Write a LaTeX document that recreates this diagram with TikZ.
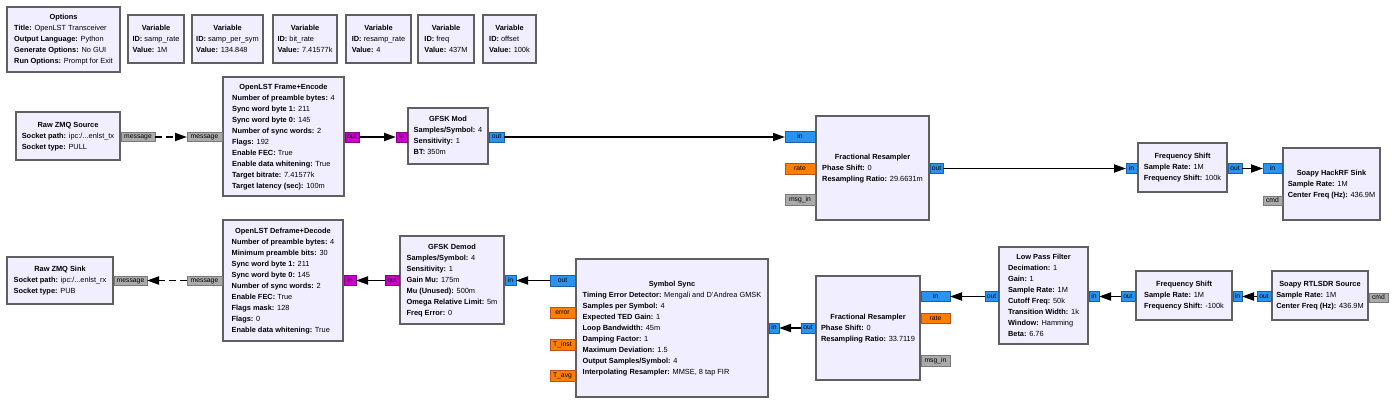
\documentclass[tikz,border=0pt]{standalone}
\usepackage{fontspec}
\setmainfont{Liberation Sans}
\usetikzlibrary{arrows.meta}

\definecolor{blkfill}{HTML}{F1EEFF}
\definecolor{blkline}{HTML}{606060}
\definecolor{cfill}{HTML}{2A93F0}
\definecolor{cline}{HTML}{1E5FA8}
\definecolor{bfill}{HTML}{CC00CC}
\definecolor{bline}{HTML}{8A008A}
\definecolor{ffill}{HTML}{FF8000}
\definecolor{fline}{HTML}{C0501E}
\definecolor{mfill}{HTML}{ABABAB}
\definecolor{mline}{HTML}{7A7A7A}

\newcommand{\kv}[2]{\textbf{#1:} #2}
\newcommand{\blk}[2]{\begin{tabular}{@{}l@{}}\multicolumn{1}{@{}c@{}}{\textbf{#1}}\\#2\end{tabular}}

\begin{document}
\begin{tikzpicture}[x=1pt,y=-1pt,
  block/.style={draw=blkline,line width=2pt,fill=blkfill,inner sep=0pt,font=\fontsize{7.4}{11}\selectfont},
  port/.style={line width=0.8pt,inner sep=0pt,outer sep=0pt,minimum height=10pt,text height=5pt,text depth=1.2pt,font=\fontsize{6.8}{8}\selectfont},
  cplx/.style={port,draw=cline,fill=cfill},
  byte/.style={port,draw=bline,fill=bfill},
  flt/.style={port,draw=fline,fill=ffill},
  msg/.style={port,draw=mline,fill=mfill,minimum height=9pt},
  wire/.style={line width=1.9pt,-{Triangle[length=12pt,width=8pt]}},
  mwire/.style={wire,dash pattern=on 7pt off 4pt}]

\useasboundingbox[fill=white] (0,0) rectangle (1395,404);

\node[block,minimum width=113pt,minimum height=65pt](opts) at (63.5,39.5){\blk{Options}{\kv{Title}{OpenLST Transceiver}\\\kv{Output Language}{Python}\\\kv{Generate Options}{No GUI}\\\kv{Run Options}{Prompt for Exit}}};
\node[block,minimum width=56pt,minimum height=48pt](var1) at (156,39){\blk{Variable}{\kv{ID}{samp\_rate}\\\kv{Value}{1M}}};
\node[block,minimum width=71pt,minimum height=48pt](var2) at (227.5,39){\blk{Variable}{\kv{ID}{samp\_per\_sym}\\\kv{Value}{134.848}}};
\node[block,minimum width=64pt,minimum height=48pt](var3) at (305,39){\blk{Variable}{\kv{ID}{bit\_rate}\\\kv{Value}{7.41577k}}};
\node[block,minimum width=65pt,minimum height=48pt](var4) at (378.5,39){\blk{Variable}{\kv{ID}{resamp\_rate}\\\kv{Value}{4}}};
\node[block,minimum width=56pt,minimum height=48pt](var5) at (446,39){\blk{Variable}{\kv{ID}{freq}\\\kv{Value}{437M}}};
\node[block,minimum width=53pt,minimum height=48pt](var6) at (509.5,39){\blk{Variable}{\kv{ID}{offset}\\\kv{Value}{100k}}};

\node[block,minimum width=104pt,minimum height=48pt](src) at (68,136){\blk{Raw ZMQ Source}{\kv{Socket path}{ipc:/...enlst\_tx}\\\kv{Socket type}{PULL}}};
\node[block,minimum width=121pt,minimum height=119pt](enc) at (283.5,136.5){\blk{OpenLST Frame+Encode}{\kv{Number of preamble bytes}{4}\\\kv{Sync word byte 1}{211}\\\kv{Sync word byte 0}{145}\\\kv{Number of sync words}{2}\\\kv{Flags}{192}\\\kv{Enable FEC}{True}\\\kv{Enable data whitening}{True}\\\kv{Target bitrate}{7.41577k}\\\kv{Target latency (sec)}{100m}}};
\node[block,minimum width=80pt,minimum height=56pt](mod) at (448,136){\blk{GFSK Mod}{\kv{Samples/Symbol}{4}\\\kv{Sensitivity}{1}\\\kv{BT}{350m}}};
\node[block,minimum width=113pt,minimum height=104pt](rsA) at (872.5,168){\blk{Fractional Resampler}{\kv{Phase Shift}{0}\\\kv{Resampling Ratio}{29.6631m}}};
\node[block,minimum width=89pt,minimum height=49pt](shA) at (1182.5,167.5){\blk{Frequency Shift}{\kv{Sample Rate}{1M}\\\kv{Frequency Shift}{100k}}};
\node[block,minimum width=97pt,minimum height=72pt](hrf) at (1331.5,184){\blk{Soapy HackRF Sink}{\kv{Sample Rate}{1M}\\\kv{Center Freq (Hz)}{436.9M}}};

\node[block,minimum width=106pt,minimum height=47pt](snk) at (60,280.5){\blk{Raw ZMQ Sink}{\kv{Socket path}{ipc:/...enlst\_rx}\\\kv{Socket type}{PUB}}};
\node[block,minimum width=120pt,minimum height=121pt](dec) at (283,280.5){\blk{OpenLST Deframe+Decode}{\kv{Number of preamble bytes}{4}\\\kv{Minimum preamble bits}{30}\\\kv{Sync word byte 1}{211}\\\kv{Sync word byte 0}{145}\\\kv{Number of sync words}{2}\\\kv{Enable FEC}{True}\\\kv{Flags mask}{128}\\\kv{Flags}{0}\\\kv{Enable data whitening}{True}}};
\node[block,minimum width=104pt,minimum height=88pt](dem) at (452,280){\blk{GFSK Demod}{\kv{Samples/Symbol}{4}\\\kv{Sensitivity}{1}\\\kv{Gain Mu}{175m}\\\kv{Mu (Unused)}{500m}\\\kv{Omega Relative Limit}{5m}\\\kv{Freq Error}{0}}};
\node[block,minimum width=192pt,minimum height=138pt](sync) at (672,328){\blk{Symbol Sync}{\kv{Timing Error Detector}{Mengali and D'Andrea GMSK}\\\kv{Samples per Symbol}{4}\\\kv{Expected TED Gain}{1}\\\kv{Loop Bandwidth}{45m}\\\kv{Damping Factor}{1}\\\kv{Maximum Deviation}{1.5}\\\kv{Output Samples/Symbol}{4}\\\kv{Interpolating Resampler}{MMSE, 8 tap FIR}}};
\node[block,minimum width=104pt,minimum height=104pt](rsB) at (868,328){\blk{Fractional Resampler}{\kv{Phase Shift}{0}\\\kv{Resampling Ratio}{33.7119}}};
\node[block,minimum width=89pt,minimum height=97pt](lpf) at (1043.5,295.5){\blk{Low Pass Filter}{\kv{Decimation}{1}\\\kv{Gain}{1}\\\kv{Sample Rate}{1M}\\\kv{Cutoff Freq}{50k}\\\kv{Transition Width}{1k}\\\kv{Window}{Hamming}\\\kv{Beta}{6.76}}};
\node[block,minimum width=96pt,minimum height=49pt](shB) at (1184,295.5){\blk{Frequency Shift}{\kv{Sample Rate}{1M}\\\kv{Frequency Shift}{-100k}}};
\node[block,minimum width=96pt,minimum height=49pt](rtl) at (1320,295.5){\blk{Soapy RTLSDR Source}{\kv{Sample Rate}{1M}\\\kv{Center Freq (Hz)}{436.9M}}};

\node[msg,minimum width=34pt,anchor=west](src-msg) at (src.east |- 0,137){message};
\node[msg,minimum width=35pt,anchor=east](enc-msg) at (enc.west |- 0,137){message};
\node[byte,minimum width=14pt,anchor=west](enc-out) at (enc.east |- 0,137){out};
\node[byte,minimum width=11pt,anchor=east](mod-in) at (mod.west |- 0,137){in};
\node[cplx,minimum width=15pt,anchor=west](mod-out) at (mod.east |- 0,137){out};
\node[cplx,minimum width=30pt,minimum height=11pt,anchor=east](rsA-in) at (rsA.west |- 0,137){in};
\node[flt,minimum width=30pt,minimum height=11pt,anchor=east](rsA-rate) at (rsA.west |- 0,168.5){rate};
\node[msg,minimum width=30pt,minimum height=11pt,anchor=east](rsA-msg) at (rsA.west |- 0,200){msg\_in};
\node[cplx,minimum width=13pt,anchor=west](rsA-out) at (rsA.east |- 0,168.5){out};
\node[cplx,minimum width=11pt,anchor=east](shA-in) at (shA.west |- 0,168.5){in};
\node[cplx,minimum width=14pt,anchor=west](shA-out) at (shA.east |- 0,168.5){out};
\node[cplx,minimum width=19pt,anchor=east](hrf-in) at (hrf.west |- 0,168.5){in};
\node[msg,minimum width=19pt,anchor=east](hrf-cmd) at (hrf.west |- 0,200.5){cmd};

\node[msg,minimum width=33pt,anchor=west](snk-msg) at (snk.east |- 0,280.5){message};
\node[msg,minimum width=35pt,anchor=east](dec-msg) at (dec.west |- 0,280.5){message};
\node[byte,minimum width=12pt,anchor=west](dec-in) at (dec.east |- 0,280.5){in};
\node[byte,minimum width=14pt,anchor=east](dem-out) at (dem.west |- 0,280.5){out};
\node[cplx,minimum width=11pt,anchor=west](dem-in) at (dem.east |- 0,280.5){in};
\node[cplx,minimum width=25pt,minimum height=11pt,anchor=east](sync-out) at (sync.west |- 0,280.5){out};
\node[flt,minimum width=25pt,minimum height=11pt,anchor=east](sync-err) at (sync.west |- 0,313){error};
\node[flt,minimum width=25pt,minimum height=11pt,anchor=east](sync-tinst) at (sync.west |- 0,344.5){T\_inst};
\node[flt,minimum width=25pt,minimum height=11pt,anchor=east](sync-tavg) at (sync.west |- 0,376){T\_avg};
\node[cplx,minimum width=10pt,anchor=west](sync-in) at (sync.east |- 0,328){in};
\node[cplx,minimum width=14pt,anchor=east](rsB-out) at (rsB.west |- 0,328){out};
\node[cplx,minimum width=29pt,anchor=west](rsB-in) at (rsB.east |- 0,296.5){in};
\node[flt,minimum width=29pt,anchor=west](rsB-rate) at (rsB.east |- 0,318.5){rate};
\node[msg,minimum width=29pt,minimum height=11pt,anchor=west](rsB-msg) at (rsB.east |- 0,360.5){msg\_in};
\node[cplx,minimum width=13pt,anchor=east](lpf-out) at (lpf.west |- 0,296.5){out};
\node[cplx,minimum width=10pt,anchor=west](lpf-in) at (lpf.east |- 0,296.5){in};
\node[cplx,minimum width=14pt,anchor=east](shB-out) at (shB.west |- 0,296.5){out};
\node[cplx,minimum width=9pt,anchor=west](shB-in) at (shB.east |- 0,296.5){in};
\node[cplx,minimum width=14pt,anchor=east](rtl-out) at (rtl.west |- 0,296.5){out};
\node[msg,minimum width=19pt,anchor=west](rtl-cmd) at (rtl.east |- 0,298){cmd};

\draw[mwire](src-msg)--(enc-msg);
\draw[wire](enc-out)--(mod-in);
\draw[wire](mod-out)--(rsA-in);
\draw[wire](rsA-out)--(shA-in);
\draw[wire](shA-out)--(hrf-in);
\draw[mwire](dec-msg)--(snk-msg);
\draw[wire](dem-out)--(dec-in);
\draw[wire](sync-out)--(dem-in);
\draw[wire](rsB-out)--(sync-in);
\draw[wire](lpf-out)--(rsB-in);
\draw[wire](shB-out)--(lpf-in);
\draw[wire](rtl-out)--(shB-in);

\end{tikzpicture}
\end{document}
